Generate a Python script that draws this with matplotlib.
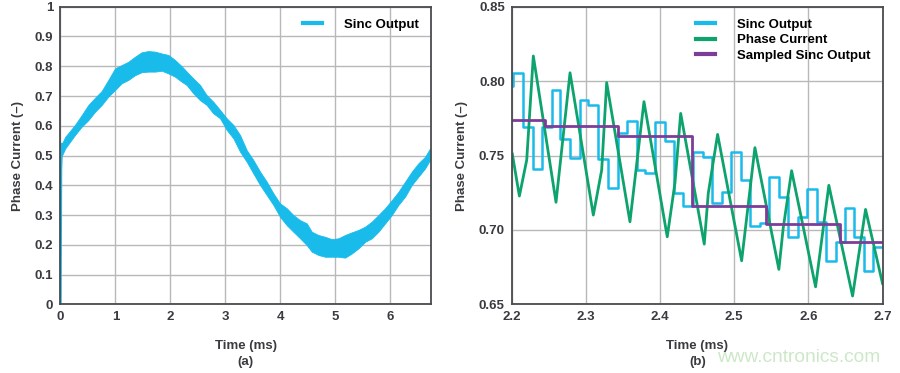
import matplotlib
matplotlib.use("Agg")
import matplotlib.pyplot as plt
from matplotlib.lines import Line2D

# ---------------- data: panel (a) ----------------
t_start = [0.005, 0.015, 0.03]
v_start = [0.0, 0.45, 0.53]

t_env = [0.03, 0.09, 0.267, 0.389, 0.51, 0.631, 0.753, 0.873, 0.995, 1.116, 1.236,
         1.358, 1.48, 1.6, 1.722, 1.843, 1.964, 2.085, 2.207, 2.297, 2.418, 2.54,
         2.66, 2.78, 2.904, 3.025, 3.145, 3.267, 3.389, 3.509, 3.631, 3.753, 3.873,
         3.995, 4.116, 4.236, 4.358, 4.48, 4.571, 4.691, 4.813, 4.935, 5.055, 5.176,
         5.298, 5.418, 5.54, 5.662, 5.782, 5.904, 6.025, 6.145, 6.267, 6.389, 6.509,
         6.631, 6.72]
v_upper = [0.54, 0.563, 0.603, 0.636, 0.67, 0.694, 0.717, 0.754, 0.793, 0.804, 0.815,
           0.832, 0.847, 0.851, 0.849, 0.843, 0.838, 0.821, 0.80, 0.782, 0.759, 0.737,
           0.703, 0.681, 0.653, 0.625, 0.603, 0.569, 0.518, 0.485, 0.446, 0.412, 0.373,
           0.339, 0.323, 0.30, 0.283, 0.272, 0.244, 0.233, 0.227, 0.219, 0.222, 0.233,
           0.242, 0.25, 0.261, 0.278, 0.30, 0.323, 0.35, 0.378, 0.412, 0.446, 0.474,
           0.496, 0.524]
v_lower = [0.50, 0.524, 0.569, 0.597, 0.619, 0.647, 0.67, 0.698, 0.72, 0.743, 0.754,
           0.77, 0.78, 0.782, 0.782, 0.785, 0.776, 0.765, 0.748, 0.737, 0.709, 0.686,
           0.67, 0.642, 0.625, 0.586, 0.558, 0.513, 0.479, 0.44, 0.401, 0.367, 0.334,
           0.294, 0.266, 0.244, 0.222, 0.199, 0.177, 0.166, 0.16, 0.16, 0.16, 0.157,
           0.171, 0.188, 0.21, 0.222, 0.244, 0.272, 0.30, 0.334, 0.362, 0.401, 0.429,
           0.457, 0.485]

# ---------------- data: panel (b) ----------------
sinc_t = [2.2, 2.2022, 2.2157, 2.2291, 2.2404, 2.2539, 2.2651, 2.2786, 2.2920, 2.3033,
          2.3167, 2.3302, 2.3437, 2.3550, 2.3685, 2.3796, 2.3931, 2.4066, 2.4187, 2.4313,
          2.4439, 2.4574, 2.4695, 2.4830, 2.4951, 2.5086, 2.5212, 2.5346, 2.5468, 2.5602,
          2.5728, 2.5854, 2.5976, 2.6111, 2.6236, 2.6367, 2.6492, 2.6618, 2.6748, 2.6873]
sinc_v = [0.797, 0.8056, 0.7694, 0.7409, 0.7694, 0.794, 0.7609, 0.7485, 0.7873, 0.7839,
          0.7474, 0.7284, 0.765, 0.7734, 0.7403, 0.7384, 0.7723, 0.7598, 0.725, 0.7161,
          0.7524, 0.7492, 0.7179, 0.7257, 0.7524, 0.7335, 0.7026, 0.7044, 0.7358, 0.7219,
          0.6954, 0.7085, 0.7275, 0.7055, 0.6793, 0.6917, 0.7145, 0.695, 0.6724, 0.6887]

phase_t = [2.2008, 2.2103, 2.2202, 2.2291, 2.2597, 2.2786, 2.31, 2.3213, 2.328, 2.3594,
           2.3783, 2.4097, 2.4201, 2.4278, 2.4596, 2.465, 2.4776, 2.51, 2.5279, 2.5602,
           2.566, 2.5774, 2.6097, 2.6276, 2.6596, 2.6771, 2.7]
phase_v = [0.751, 0.7228, 0.747, 0.8169, 0.7186, 0.8056, 0.71, 0.7403, 0.799, 0.7055,
           0.7862, 0.6954, 0.7317, 0.7783, 0.6905, 0.7246, 0.7642, 0.6793, 0.7553, 0.6735,
           0.701, 0.7398, 0.6618, 0.730, 0.6556, 0.7138, 0.664]

sampled_t = [2.2, 2.2449, 2.3437, 2.4434, 2.5432, 2.643]
sampled_v = [0.7738, 0.7698, 0.7631, 0.7158, 0.7042, 0.6917]

x_end_b = 2.7

# ---------------- styling ----------------
CYAN = "#19BBEB"
GREEN = "#0DA36D"
PURPLE = "#7D3C98"
GRID = "#B8B8BA"
SPINE = "#4A4A4F"
TXT = "#3A3A40"

plt.rcParams["font.family"] = ["Liberation Sans", "DejaVu Sans"]
plt.rcParams["font.weight"] = "bold"

fig = plt.figure(figsize=(9.0, 3.73), dpi=100)
fig.patch.set_facecolor("white")

axA = fig.add_axes([0.067, 0.184, 0.412, 0.798])
axB = fig.add_axes([0.5686, 0.184, 0.412, 0.798])

for ax in (axA, axB):
    ax.grid(True, color=GRID, linewidth=1.0)
    ax.set_axisbelow(True)
    for s in ax.spines.values():
        s.set_color(SPINE)
        s.set_linewidth(1.3)
    ax.tick_params(length=0, pad=5, labelsize=9.5, labelcolor=TXT)
    ax.set_xlabel("Time (ms)", fontsize=9.5, fontweight="bold", color=TXT, labelpad=12)
    ax.set_ylabel("Phase Current (–)", fontsize=9.5, fontweight="bold", color=TXT, labelpad=8)

# panel (a)
axA.fill_between(t_env, v_lower, v_upper, color=CYAN, linewidth=0.6, edgecolor=CYAN)
axA.plot(t_start, v_start, color=CYAN, linewidth=1.6)
axA.plot([t_start[-1], t_env[0]], [v_start[-1], v_upper[0]], color=CYAN, linewidth=1.6)
axA.set_xlim(0, 6.74)
axA.set_ylim(0, 1)
axA.set_xticks(range(0, 7))
axA.set_yticks([i / 10 for i in range(11)])
axA.set_yticklabels(["0"] + [f"{i/10:.1f}" for i in range(1, 10)] + ["1"])
for lab in axA.get_xticklabels() + axA.get_yticklabels():
    lab.set_fontweight("bold")
axA.legend(handles=[Line2D([], [], color=CYAN, linewidth=3)], labels=["Sinc Output"],
           loc="upper right", frameon=False, handlelength=1.45,
           handletextpad=1.7, borderaxespad=0.5, prop={"weight": "bold", "size": 9.5})

# panel (b)
axB.step(sinc_t + [x_end_b], sinc_v + [sinc_v[-1]], where="post", color=CYAN,
         linewidth=1.8, label="Sinc Output")
axB.plot(phase_t, phase_v, color=GREEN, linewidth=2.0, label="Phase Current")
axB.step(sampled_t + [x_end_b], sampled_v + [sampled_v[-1]], where="post", color=PURPLE,
         linewidth=2.0, label="Sampled Sinc Output")
axB.set_xlim(2.2, 2.7)
axB.set_ylim(0.65, 0.85)
axB.set_xticks([2.2, 2.3, 2.4, 2.5, 2.6, 2.7])
axB.set_xticklabels(["2.2", "2.3", "2.4", "2.5", "2.6", "2.7"])
axB.set_yticks([0.65, 0.70, 0.75, 0.80, 0.85])
axB.set_yticklabels(["0.65", "0.70", "0.75", "0.80", "0.85"])
for lab in axB.get_xticklabels() + axB.get_yticklabels():
    lab.set_fontweight("bold")
axB.legend(handles=[Line2D([], [], color=CYAN, linewidth=3),
                    Line2D([], [], color=GREEN, linewidth=3),
                    Line2D([], [], color=PURPLE, linewidth=3)],
           labels=["Sinc Output", "Phase Current", "Sampled Sinc Output"],
           loc="upper right", frameon=False, handlelength=1.45, handletextpad=1.7,
           labelspacing=0.25, borderaxespad=0.5,
           prop={"weight": "bold", "size": 9.5})

fig.text(0.2725, 0.03, "(a)", ha="center", va="center", fontsize=9.5,
         fontweight="bold", color=TXT)
fig.text(0.7755, 0.03, "(b)", ha="center", va="center", fontsize=9.5,
         fontweight="bold", color=TXT)
fig.text(0.797, 0.042, "www.cntronics.com", ha="left", va="center", fontsize=13.8,
         color="#CDE8C8", fontweight="normal")

fig.savefig("out.png", dpi=100, facecolor="white")
